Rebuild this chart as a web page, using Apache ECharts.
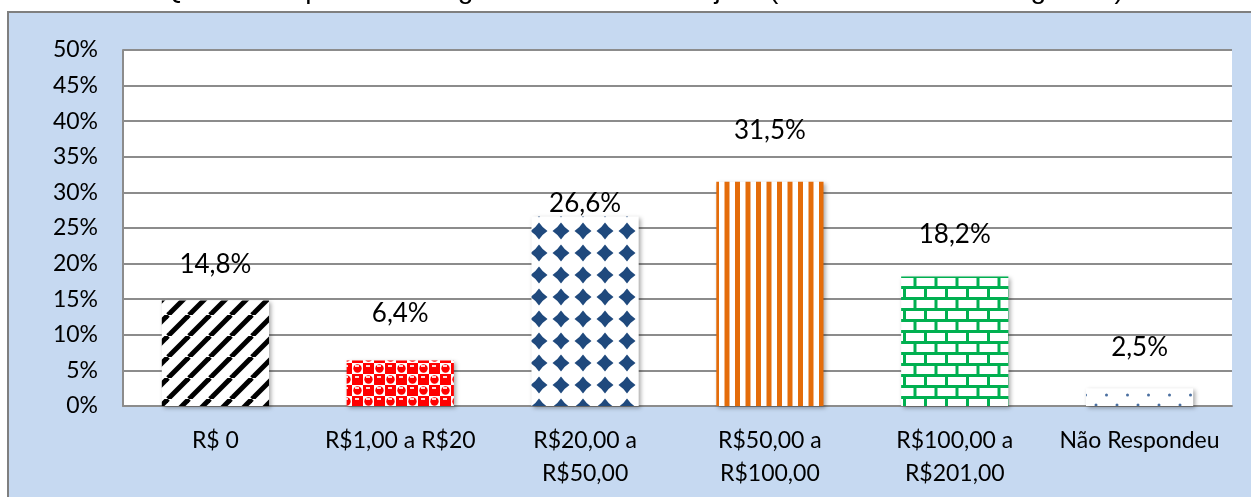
<!DOCTYPE html>
<html>
<head>
<meta charset="utf-8">
<script src="https://cdn.jsdelivr.net/npm/echarts@6/dist/echarts.min.js"></script>
<style>
  html, body { margin: 0; padding: 0; background: #fff; }
  #chart { width: 1251px; height: 497px; }
</style>
</head>
<body>
<div id="chart"></div>
<script type="text/javascript">
	// dados do gráfico
	var categories = ['R$ 0', 'R$1,00 a R$20', 'R$20,00 a\nR$50,00', 'R$50,00 a\nR$100,00', 'R$100,00 a\nR$201,00', 'Não Respondeu'];
	var percentValues = [14.8, 6.4, 26.6, 31.5, 18.2, 2.5];
	var yMin = 0, yMax = 50, yStep = 5;

	// deslocamento vertical dos rótulos (estilo, como no original do Excel)
	var labelShift = [-9, -20, 14, -24, -15, -14];

	function tile(w, h, draw){
		var c = document.createElement('canvas');
		c.width = w; c.height = h;
		var g = c.getContext('2d');
		g.fillStyle = '#fff';
		g.fillRect(0, 0, w, h);
		draw(g, w, h);
		return {image: c, repeat: 'repeat'};
	}

	// listras diagonais pretas
	var pStripes = tile(21, 21, function(g, w, h){
		g.strokeStyle = '#000';
		g.lineWidth = 5;
		for (var k = -1; k <= 1; k++) {
			g.beginPath();
			g.moveTo(k * w, h);
			g.lineTo(k * w + w, 0);
			g.stroke();
		}
	});
	// esferas vermelhas
	var pSpheres = tile(22, 22, function(g){
		g.fillStyle = '#ff0000';
		var pts = [[5.5, 5.5], [16.5, 16.5], [16.5, 5.5], [5.5, 16.5]];
		g.fillRect(0, 0, 11, 11);
		g.fillRect(11, 11, 11, 11);
		for (var i = 2; i < 4; i++) {
			g.beginPath(); g.arc(pts[i][0], pts[i][1], 4.2, 0, Math.PI * 2); g.fill();
		}
		g.fillStyle = 'rgba(255,255,255,0.85)';
		for (var j = 0; j < 4; j++) {
			g.fillRect(pts[j][0] - 2.5, pts[j][1] - 3.5, 4, 2);
		}
	});
	// losangos azuis
	var pDiamonds = tile(22, 22, function(g){
		g.fillStyle = '#1f497d';
		var cx = 11, cy = 11, r = 8.5, q = 3.4;
		g.beginPath();
		g.moveTo(cx, cy - r);
		g.quadraticCurveTo(cx + q, cy - q, cx + r, cy);
		g.quadraticCurveTo(cx + q, cy + q, cx, cy + r);
		g.quadraticCurveTo(cx - q, cy + q, cx - r, cy);
		g.quadraticCurveTo(cx - q, cy - q, cx, cy - r);
		g.fill();
	});
	// listras verticais laranja
	var pVertical = tile(21, 10, function(g){
		g.fillStyle = '#e46c0a';
		g.fillRect(0, 0, 5, 10);
		g.fillRect(10.5, 0, 5, 10);
	});
	// tijolos verdes
	var pBricks = tile(21, 22, function(g){
		g.fillStyle = '#00b050';
		g.fillRect(0, 0, 21, 3);
		g.fillRect(0, 11, 21, 3);
		g.fillRect(0, 0, 3, 11);
		g.fillRect(10.5, 11, 3, 11);
	});
	// pontilhado
	var pDots = tile(21, 20, function(g){
		g.fillStyle = '#4a6fa0';
		g.beginPath(); g.arc(4, 5, 1.5, 0, Math.PI * 2); g.fill();
		g.beginPath(); g.arc(14.5, 15, 1.5, 0, Math.PI * 2); g.fill();
	});
	var patterns = [pStripes, pSpheres, pDiamonds, pVertical, pBricks, pDots];

	var seriesData = percentValues.map(function(v, i){
		return {
			value: v,
			itemStyle: {color: patterns[i]},
			label: {offset: [0, labelShift[i]]}
		};
	});

	var myChart = echarts.init(document.getElementById('chart'), null, {renderer: 'canvas'});
	var option = {
		backgroundColor: '#fff',
		animation: false,
		graphic: [
			{
				type: 'rect', z: -10, silent: true,
				shape: {x: 8, y: 12, width: 1260, height: 500},
				style: {fill: '#c6d9f1', stroke: '#7f7f7f', lineWidth: 2}
			},
			{
				type: 'text', z: -10, silent: true,
				style: {
					x: 10, y: 4,
					text: 'Gráfico 11 - Qual a sua previsão de gastos no evento Hajar? (efeito em valor do ingresso)',
					font: '28px "Liberation Sans"',
					fill: '#000',
					verticalAlign: 'bottom'
				}
			}
		],
		grid: {
			left: 123, right: 19, top: 50, bottom: 91,
			show: true, backgroundColor: '#fff', borderWidth: 0
		},
		xAxis: {
			type: 'category',
			data: categories,
			axisLine: {show: true, lineStyle: {color: '#8c8c8c', width: 2}},
			axisTick: {show: false},
			axisLabel: {
				color: '#000', fontFamily: 'Lato', fontSize: 23,
				lineHeight: 33, margin: 18, interval: 0
			}
		},
		yAxis: {
			type: 'value',
			min: yMin, max: yMax, interval: yStep,
			axisLine: {show: true, lineStyle: {color: '#8c8c8c', width: 2}},
			axisTick: {show: false},
			splitLine: {lineStyle: {color: '#8c8c8c', width: 2}},
			axisLabel: {
				color: '#000', fontFamily: 'Lato', fontSize: 23, margin: 25,
				formatter: '{value}%'
			}
		},
		series: [{
			type: 'bar',
			data: seriesData,
			barCategoryGap: '42%',
			itemStyle: {
				shadowColor: 'rgba(0,0,0,0.35)',
				shadowBlur: 4,
				shadowOffsetX: 2,
				shadowOffsetY: 2
			},
			label: {
				show: true,
				position: 'top',
				distance: 14,
				color: '#000',
				fontFamily: 'Lato',
				fontSize: 26,
				formatter: function(p){ return p.value.toFixed(1).replace('.', ',') + '%'; }
			}
		}]
	};
	myChart.setOption(option);
</script>
</body>
</html>
